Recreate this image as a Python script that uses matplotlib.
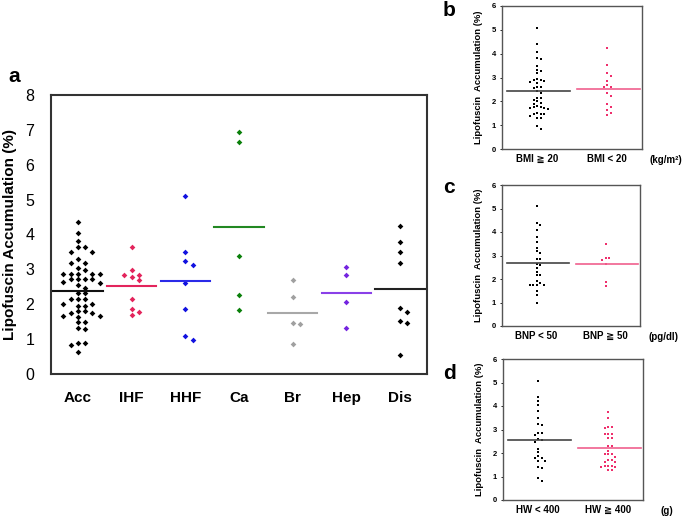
import matplotlib.pyplot as plt
import numpy as np

plt.rcParams['font.family'] = ['Liberation Sans', 'DejaVu Sans']

# ---- panel a data
groups_a = ['Acc', 'IHF', 'HHF', 'Ca', 'Br', 'Hep', 'Dis']
acc = [4.37, 4.05, 3.80, 3.64, 3.64, 3.50, 3.50, 3.30, 3.18, 3.18, 3.03, 2.98,
       2.87, 2.87, 2.87, 2.87, 2.87, 2.72, 2.72, 2.72, 2.72, 2.65, 2.60, 2.55,
       2.48, 2.32, 2.32, 2.14, 2.14, 2.14, 2.01, 2.01, 1.96, 1.96, 1.80, 1.80,
       1.74, 1.74, 1.66, 1.66, 1.63, 1.48, 1.50, 1.33, 1.29, 0.89, 0.88, 0.83, 0.64]
ihf = [3.65, 2.97, 2.85, 2.85, 2.78, 2.70, 2.14, 1.85, 1.78, 1.70]
hhf = [5.09, 3.49, 3.24, 3.13, 2.60, 1.86, 1.09, 0.98]
ca = [6.94, 6.64, 3.37, 2.27, 1.84]
br = [2.70, 2.22, 1.47, 1.43, 0.86]
hep = [3.08, 2.84, 2.06, 1.33]
dis = [4.24, 3.78, 3.51, 3.18, 1.88, 1.79, 1.53, 1.45, 0.55]
values_a = [acc, ihf, hhf, ca, br, hep, dis]
means_a = [2.38, 2.53, 2.68, 4.22, 1.74, 2.33, 2.44]
colors_a = ['black', '#e3245c', '#1212e0', '#0a800a', '#a0a0a0', '#7424e0', 'black']
line_colors_a = ['#111111', '#e3245c', '#2a2ae8', '#228822', '#a8a8a8', '#8a40e8', '#222222']

# ---- panel b data
bmi_hi = [5.07, 4.39, 4.05, 3.80, 3.78, 3.50, 3.30, 3.28, 3.17, 2.92, 2.90, 2.88,
          2.85, 2.80, 2.78, 2.62, 2.60, 2.55, 2.45, 2.33, 2.15, 2.12, 2.05, 2.00,
          1.95, 1.90, 1.80, 1.78, 1.76, 1.72, 1.70, 1.68, 1.50, 1.48, 1.45, 1.45,
          1.40, 1.30, 1.30, 0.97, 0.85]
bmi_lo = [4.22, 3.52, 3.18, 3.06, 2.86, 2.69, 2.59, 2.59, 2.34, 2.23, 1.89, 1.78,
          1.64, 1.53, 1.41]
means_b = [2.42, 2.51]
labels_b = ['BMI \u2267 20', 'BMI < 20']

# ---- panel c data
bnp_lo = [5.12, 4.39, 4.29, 4.08, 3.80, 3.58, 3.33, 3.19, 3.09, 2.87, 2.85, 2.62,
          2.59, 2.48, 2.30, 2.16, 2.16, 1.91, 1.85, 1.76, 1.76, 1.76, 1.76, 1.48,
          1.34, 0.98]
bnp_hi = [3.49, 2.90, 2.88, 2.80, 2.62, 1.88, 1.71]
means_c = [2.70, 2.62]
labels_c = ['BNP < 50', 'BNP \u2267 50']

# ---- panel d data
hw_lo = [5.08, 4.37, 4.23, 4.04, 3.77, 3.48, 3.24, 3.19, 2.85, 2.85, 2.77, 2.60,
         2.57, 2.48, 2.17, 2.03, 1.86, 1.77, 1.77, 1.67, 1.67, 1.39, 1.35, 0.92, 0.81]
hw_hi = [3.76, 3.48, 3.12, 3.12, 3.05, 2.81, 2.81, 2.81, 2.64, 2.64, 2.31, 2.31,
         2.10, 1.96, 1.96, 1.96, 1.84, 1.72, 1.72, 1.60, 1.60, 1.46, 1.46, 1.46,
         1.42, 1.42, 1.27, 1.27]
means_d = [2.55, 2.23]
labels_d = ['HW < 400', 'HW \u2267 400']

pink = '#ee2f6c'
pink_line = '#f0608e'


def swarm_x(ax, values, pos, step, ygap):
    # column-type beeswarm in pixel space: columns step px apart,
    # two points in one column need at least ygap px between them
    pts = ax.transData.transform(np.column_stack([np.full(len(values), pos), values]))
    ys = pts[:, 1]
    cols_used = []
    col_of = np.zeros(len(values))
    for i in np.argsort(-ys):
        y = ys[i]
        for k in range(40):
            cands = [0] if k == 0 else [k, -k]
            found = None
            for c in cands:
                if all(not (cc == c and abs(y - py) < ygap) for cc, py in cols_used):
                    found = c
                    break
            if found is not None:
                break
        cols_used.append((found, y))
        col_of[i] = found
    px_per_unit = ax.transData.transform((1, 0))[0] - ax.transData.transform((0, 0))[0]
    return pos + col_of * step / px_per_unit


fig = plt.figure(figsize=(6.85, 5.16), dpi=100)

# ---------------- panel a
ax = fig.add_axes([51 / 685, 1 - 374 / 516, 376 / 685, 279 / 516])
ax.set_xlim(0.5, 7.5)
ax.set_ylim(0, 8)
for i, vals in enumerate(values_a):
    xs = swarm_x(ax, vals, i + 1, 7.3, 5.2)
    ax.plot(xs, vals, 'D', color=colors_a[i], markersize=2.9, markeredgewidth=0)
    ax.plot([i + 1 - 0.46, i + 1 + 0.46], [means_a[i], means_a[i]],
            color=line_colors_a[i], linewidth=1.5)
ax.set_xticks(range(1, 8))
ax.set_xticklabels(groups_a, fontsize=11, fontweight='bold')
ax.set_yticks(range(0, 9))
ax.tick_params(axis='both', length=0, labelsize=11.5)
ax.tick_params(axis='x', pad=12, labelsize=11)
ax.tick_params(axis='y', pad=12)
for s in ax.spines.values():
    s.set_color('#333333')
    s.set_linewidth(1.5)
ax.set_ylabel('Lipofuscin Accumulation (%)', fontsize=11, fontweight='bold', labelpad=6)
fig.text(8 / 685, 1 - 82 / 516, 'a', fontsize=15, fontweight='bold')


# ---------------- small panels
def small_panel(rect, v1, v2, means, labels, unit, letter, letter_xy):
    x, y, w, h = rect
    axs = fig.add_axes([x / 685, 1 - (y + h) / 516, w / 685, h / 516])
    axs.set_xlim(0.5, 2.5)
    axs.set_ylim(0, 6)
    cols = ['black', pink]
    lcols = ['#444444', pink_line]
    for j, vals in enumerate([v1, v2]):
        xs = swarm_x(axs, vals, j + 1, 3.5, 3.0)
        axs.plot(xs, vals, 's', color=cols[j], markersize=1.7, markeredgewidth=0)
        axs.plot([j + 1 - 0.43, j + 1 + 0.47], [means[j], means[j]],
                 color=lcols[j], linewidth=1.2)
    axs.set_xticks([1, 2])
    axs.set_xticklabels(labels, fontsize=7, fontweight='bold')
    axs.set_yticks(range(0, 7))
    axs.set_yticklabels([str(t) for t in range(0, 7)], fontsize=5.5, fontweight='bold')
    axs.tick_params(axis='y', length=1.5, width=0.6, pad=3)
    axs.tick_params(axis='x', length=0, pad=3.5)
    for s in axs.spines.values():
        s.set_color('#555555')
        s.set_linewidth(1.0)
    axs.set_ylabel('Lipofuscin  Accumulation (%)', fontsize=6.8, fontweight='bold', labelpad=6)
    axs.text(1.17, -0.075, unit, transform=axs.transAxes, fontsize=7, fontweight='bold',
             ha='center', va='center')
    fig.text(letter_xy[0] / 685, 1 - letter_xy[1] / 516, letter, fontsize=15, fontweight='bold')


small_panel((502, 6, 140, 143), bmi_hi, bmi_lo, means_b, labels_b, '(kg/m\u00b2)', 'b', (443, 16))
small_panel((502, 185, 138, 141), bnp_lo, bnp_hi, means_c, labels_c, '(pg/dl)', 'c', (443, 193))
small_panel((503, 359, 140, 141), hw_lo, hw_hi, means_d, labels_d, '(g)', 'd', (443, 379))

fig.savefig('out.png', dpi=100)
